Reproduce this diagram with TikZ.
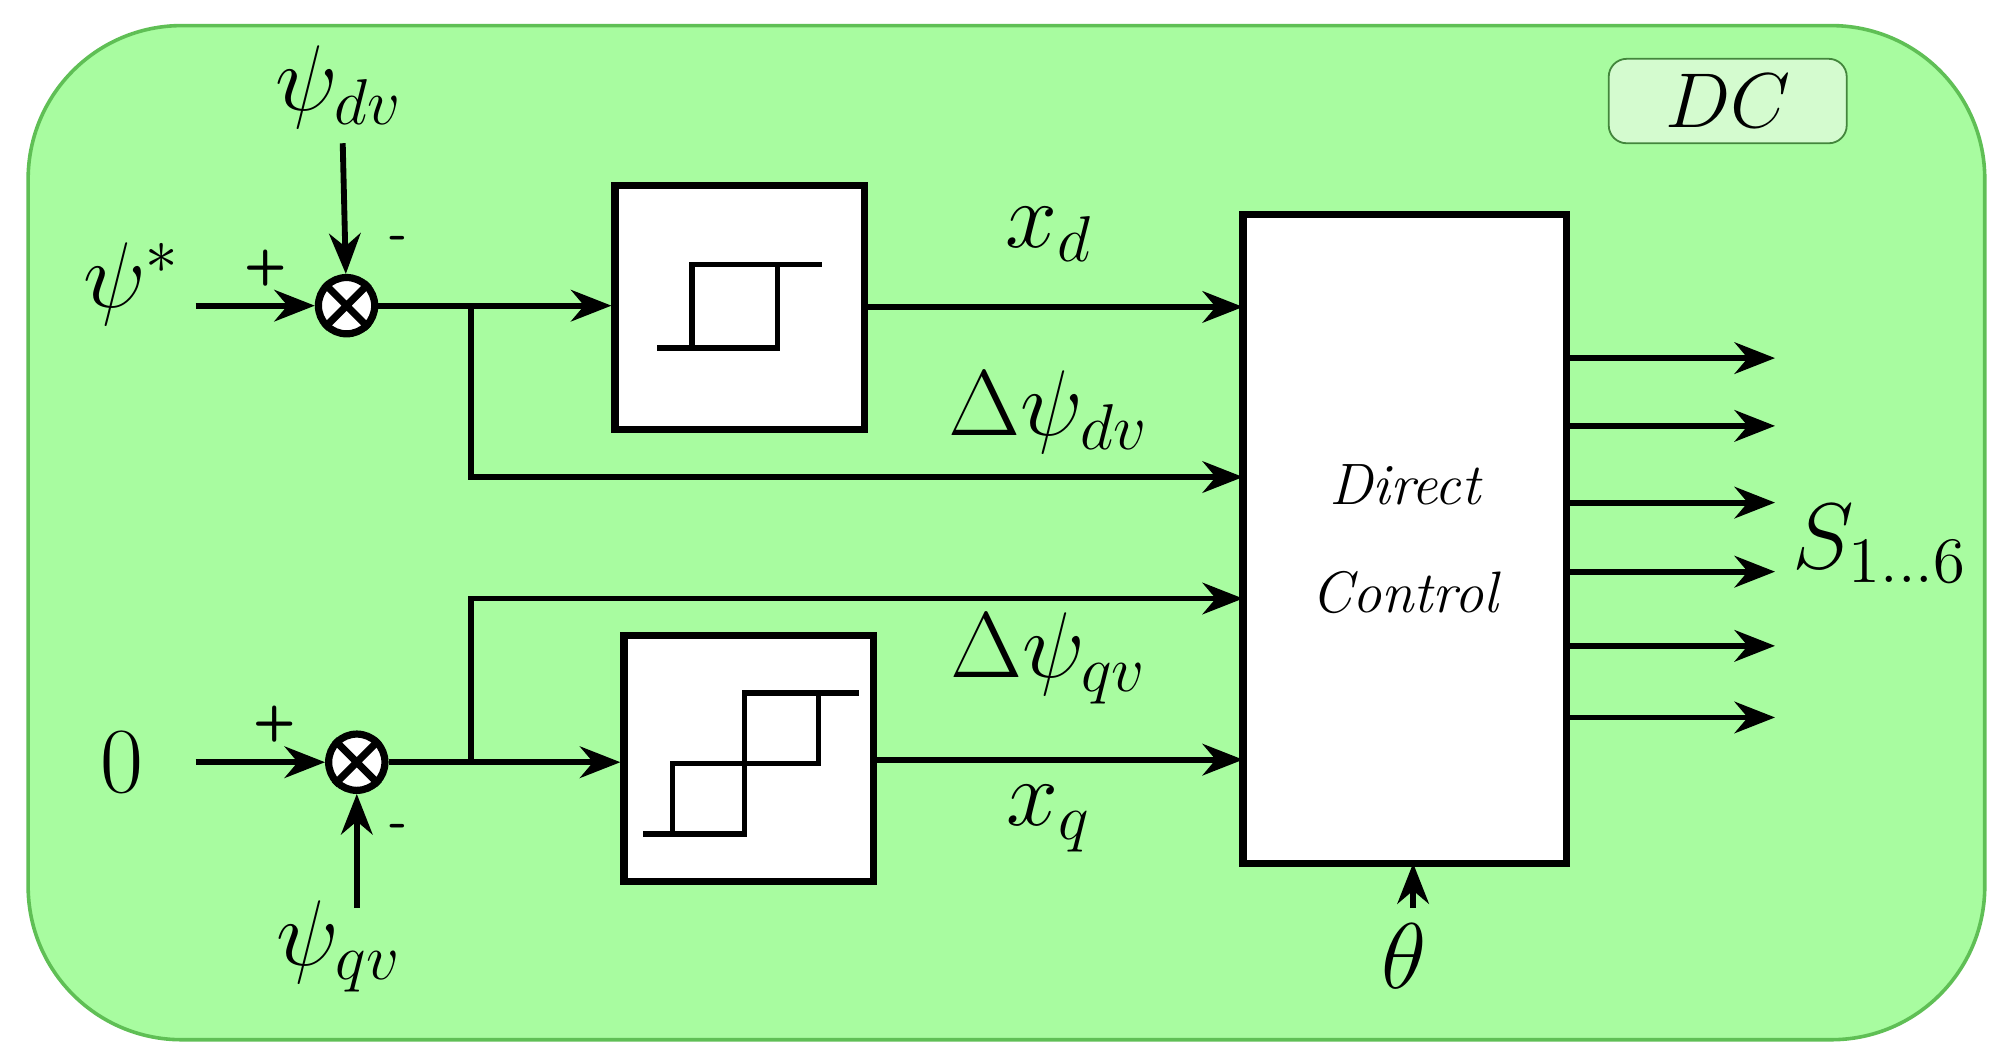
\documentclass[tikz,border=0pt]{standalone}
\usetikzlibrary{arrows.meta}
\definecolor{bg}{HTML}{A8FCA0}
\definecolor{bgd}{HTML}{5FBF55}
\definecolor{dcf}{HTML}{D4FBCF}
\begin{document}
\begin{tikzpicture}[x=0.01cm,y=-0.01cm,
  ln/.style={line width=1.3pt},
  ar/.style={ln,-{Stealth[length=9pt,width=7pt]}},
  blk/.style={draw,line width=1.6pt,fill=white,inner sep=0pt},
  sum/.style={circle,draw,line width=1.6pt,fill=white,minimum size=0.44cm,inner sep=0pt},
  lab/.style={font=\fontsize{20}{24}\selectfont},
  sg/.style={font=\sffamily\bfseries\fontsize{11}{13}\selectfont}]
\useasboundingbox (0,0) rectangle (1560,823);
\draw[bgd,fill=bg,rounded corners=1.2cm,line width=0.8pt] (22,20) rectangle (1552,813);
\node[draw=bgd!70!black,fill=dcf,rounded corners=4pt,minimum width=1.86cm,minimum height=0.66cm,font=\fontsize{19}{22}\selectfont] (dc) at (1351,79) {$DC$};
% sums
\node[sum] (s1) at (271,239) {};
\draw[line width=1.6pt] (s1.north east)--(s1.south west) (s1.north west)--(s1.south east);
\node[sum] (s2) at (279,596) {};
\draw[line width=1.6pt] (s2.north east)--(s2.south west) (s2.north west)--(s2.south east);
% inputs
\node[lab] (psi) at (103,222) {$\psi^*$};
\coordinate (pin) at (153,239);
\draw[ar] (pin) -- (s1);
\node[sg] (p1) at (208,210) {+};
\node[sg] (m1) at (312,190) {-};
\node[lab] (pdv) at (265,68) {$\psi_{dv}$};
\coordinate (pdvs) at (268,112);
\draw[ar] (pdvs) -- (s1);
\node[lab] (zero) at (95,596) {$0$};
\coordinate (zin) at (153,596);
\draw[ar] (zin) -- (s2);
\node[sg] (p2) at (215,566) {+};
\node[sg] (m2) at (312,650) {-};
\node[lab] (pqv) at (265,740) {$\psi_{qv}$};
\coordinate (pqvs) at (279,710);
\draw[ar] (pqvs) -- (s2);
% hysteresis blocks
\node[blk,minimum width=1.95cm,minimum height=1.91cm] (h1) at (578.5,240.5) {};
\node[blk,minimum width=1.95cm,minimum height=1.92cm] (h2) at (585.5,593) {};
\draw[line width=1.2pt] (514,272)--(608,272)--(608,207) (541,272)--(541,207)--(643,207);
\draw[line width=1.2pt] (503,652)--(582,652)--(582,542)--(672,542) (526,652)--(526,597)--(640,597)--(640,542);
% DC block
\node[blk,minimum width=2.53cm,minimum height=5.07cm,align=center,font=\fontsize{13}{24}\selectfont\itshape] (d) at (1098.5,421.5) {Direct\\Control};
% connections
\coordinate (b1) at (368,240);
\coordinate (b2) at (368,596);
\draw[ar] (s1.east) -- (h1.west|-s1.east);
\draw[ar] (b1) |- (972,373);
\draw[ar] (h1.east|-0,240) -- (972,240);
\draw[ar] (s2.east) -- (h2.west|-s2.east);
\draw[ar] (b2) |- (972,468);
\draw[ar] (h2.east|-0,594) -- (972,594);
\node[lab] (xd) at (820,183) {$x_d$};
\node[lab] (dd) at (820,322) {$\Delta\psi_{dv}$};
\node[lab] (dq) at (820,515) {$\Delta\psi_{qv}$};
\node[lab] (xq) at (820,640) {$x_q$};
\foreach \y/\n in {280/o1,333/o2,393/o3,447/o4,505/o5,561/o6}{
  \coordinate (\n) at (1388,\y);
  \draw[ar] (d.east|-0,\y) -- (\n);}
\node[lab] (S) at (1470,425) {$S_{1\ldots6}$};
\node[lab] (th) at (1098,748) {$\theta$};
\coordinate (ths) at (1105,710);
\draw[ar] (ths) -- (1105,675);
\end{tikzpicture}
\end{document}
